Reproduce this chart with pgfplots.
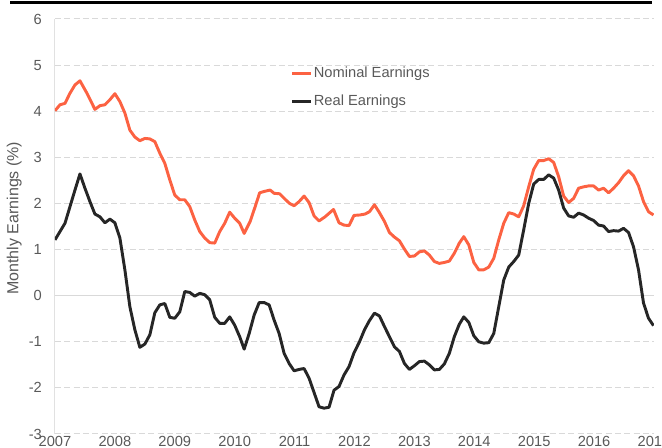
\documentclass[border=0pt]{standalone}
\usepackage{pgfplots}
\pgfplotsset{compat=1.18}
\usepackage{fontspec}
\setmainfont{Liberation Sans}
\definecolor{nomcol}{RGB}{252,98,66}
\definecolor{realcol}{RGB}{38,38,38}
\definecolor{textgray}{RGB}{89,89,89}
\definecolor{gridgray}{RGB}{217,217,217}
\definecolor{axisgray}{RGB}{225,225,225}
\begin{document}
\begin{tikzpicture}
\begin{axis}[
  at={(0,0)}, anchor=south west,
  scale only axis, width=449.25pt, height=311.25pt,
  xmin=0, xmax=120, ymin=-3, ymax=6,
  xtick={0,12,...,120},
  xticklabels={2007,2008,2009,2010,2011,2012,2013,2014,2015,2016,2017},
  ytick={-3,-2,...,6},
  /pgf/number format/assume math mode=true,
  ticklabel style={font=\fontsize{11}{13}\selectfont, text=textgray},
  yticklabel style={inner xsep=0.5pt, xshift=-9.2pt},
  xticklabel style={yshift=1.6pt},
  major tick length=0pt,
  axis lines=left,
  axis line style={-},
  x axis line style={draw=none},
  y axis line style={draw=axisgray, line width=0.75pt},
  ymajorgrids,
  major grid style={draw=gridgray, line width=0.75pt, dash pattern=on 4.5pt off 2.5pt},
  extra y ticks={0}, extra y tick labels={},
  extra y tick style={ymajorgrids=true, major grid style={draw=gridgray, line width=0.75pt, solid}},
  ylabel={Monthly Earnings (\%)},
  every axis y label/.style={at={(axis description cs:-0.068,0.52)}, anchor=center, rotate=90, font=\fontsize{12}{14}\selectfont, text=textgray},
  legend style={at={(axis description cs:0.3935,0.888)}, anchor=north west, draw=none, fill=none, inner sep=0pt, row sep=9.5pt,
    nodes={inner sep=1pt, text=textgray, font=\fontsize{11}{13}\selectfont}},
  legend cell align=left,
  legend image code/.code={\draw[#1, line width=2.2pt] (0pt,0pt) -- (14pt,0pt);},
  every axis plot/.append style={line width=2.2pt, line join=round},
]
\addplot[nomcol] table {
0 4.01
1.0 4.14
2.0 4.17
3.0 4.39
4.0 4.57
5.0 4.66
6.4 4.39
8.0 4.04
9.0 4.12
10.0 4.14
11.0 4.25
12.0 4.38
13.0 4.21
14.0 3.96
15.0 3.59
16.0 3.44
17.0 3.36
18.0 3.41
19.0 3.40
20.0 3.34
21.0 3.09
22.0 2.87
23.0 2.51
24.0 2.18
25.0 2.08
26.0 2.08
27.0 1.93
28.0 1.64
29.0 1.39
30.0 1.25
31.0 1.15
32.0 1.14
33.0 1.39
34.0 1.57
35.0 1.81
36.0 1.68
37.0 1.57
37.9 1.35
39.1 1.61
40.1 1.93
41.0 2.23
41.9 2.26
43.1 2.29
43.9 2.22
45.0 2.21
46.1 2.09
47.0 2.00
47.9 1.95
48.9 2.04
49.9 2.16
50.9 2.02
51.9 1.73
52.9 1.62
54.1 1.71
55.8 1.87
56.9 1.58
57.9 1.53
58.9 1.52
59.9 1.74
61.1 1.75
62.1 1.77
63.0 1.82
64.0 1.97
65.0 1.80
66.0 1.61
67.0 1.37
68.0 1.27
69.0 1.19
70.0 1.01
71.0 0.85
72.0 0.86
73.0 0.95
74.0 0.97
75.0 0.88
76.0 0.74
77.0 0.70
78.0 0.72
79.0 0.75
80.0 0.92
81.0 1.14
81.9 1.28
82.9 1.10
83.9 0.72
84.9 0.56
85.9 0.56
86.9 0.62
87.9 0.81
88.9 1.21
89.9 1.57
90.9 1.80
91.9 1.77
92.9 1.71
93.9 1.95
94.9 2.36
95.9 2.74
96.9 2.93
97.9 2.93
98.9 2.97
99.9 2.89
100.9 2.58
101.9 2.16
102.9 2.02
103.9 2.11
104.9 2.33
105.9 2.36
106.9 2.38
107.9 2.38
108.9 2.29
109.9 2.33
110.9 2.23
111.9 2.33
112.9 2.45
113.9 2.60
114.9 2.71
115.9 2.60
116.9 2.38
117.9 2.04
118.9 1.82
119.9 1.75
};
\addlegendentry{Nominal Earnings}
\addplot[realcol] table {
0 1.21
1.0 1.39
2.0 1.57
3.0 1.93
4.0 2.29
5.0 2.64
6.0 2.33
7.0 2.04
8.0 1.77
9.0 1.71
10.0 1.58
11.0 1.66
12.0 1.58
13.0 1.25
14.0 0.56
15.0 -0.24
16.0 -0.74
17.0 -1.12
18.0 -1.05
19.0 -0.85
20.0 -0.37
21.0 -0.20
22.0 -0.17
23.0 -0.47
24.0 -0.49
25.0 -0.35
26.0 0.09
27.0 0.07
28.0 -0.01
29.0 0.05
30.0 0.02
31.0 -0.09
32.0 -0.47
33.0 -0.60
34.0 -0.60
35.0 -0.46
36.0 -0.64
37.0 -0.89
37.9 -1.16
38.9 -0.82
39.9 -0.42
40.9 -0.15
41.9 -0.15
42.9 -0.20
43.9 -0.53
44.9 -0.82
45.9 -1.25
46.9 -1.47
47.9 -1.63
48.9 -1.60
49.9 -1.58
50.9 -1.79
51.9 -2.10
52.9 -2.41
53.9 -2.44
54.9 -2.42
55.9 -2.05
56.9 -1.97
57.9 -1.72
58.9 -1.54
59.9 -1.24
61.0 -1.00
62.0 -0.74
63.0 -0.54
64.0 -0.38
65.0 -0.44
66.0 -0.67
67.0 -0.89
68.0 -1.11
69.0 -1.21
70.0 -1.47
71.0 -1.60
72.0 -1.52
73.0 -1.43
74.0 -1.42
75.0 -1.50
76.0 -1.61
77.0 -1.60
78.0 -1.48
79.0 -1.25
80.0 -0.89
81.0 -0.62
81.9 -0.46
82.9 -0.58
83.9 -0.87
84.9 -1.00
85.9 -1.03
86.9 -1.02
87.9 -0.82
88.9 -0.24
89.9 0.34
90.9 0.62
91.9 0.74
92.9 0.88
93.9 1.43
94.9 2.00
95.9 2.42
96.9 2.52
97.9 2.52
98.9 2.62
99.9 2.55
100.9 2.29
101.9 1.90
102.9 1.73
103.9 1.70
104.9 1.79
105.9 1.75
106.9 1.68
107.9 1.63
108.9 1.53
109.9 1.51
110.9 1.39
111.9 1.41
112.9 1.40
113.9 1.46
114.9 1.37
115.9 1.06
116.9 0.56
117.9 -0.16
118.9 -0.49
119.9 -0.65
};
\addlegendentry{Real Earnings}
\end{axis}
\draw[black, line width=2.25pt] (-33.4pt,323.5pt) -- (447.75pt,323.5pt);
\pgfresetboundingbox
\useasboundingbox (-41.25pt,-10.5pt) rectangle (455.25pt,325.5pt);
\end{tikzpicture}
\end{document}
